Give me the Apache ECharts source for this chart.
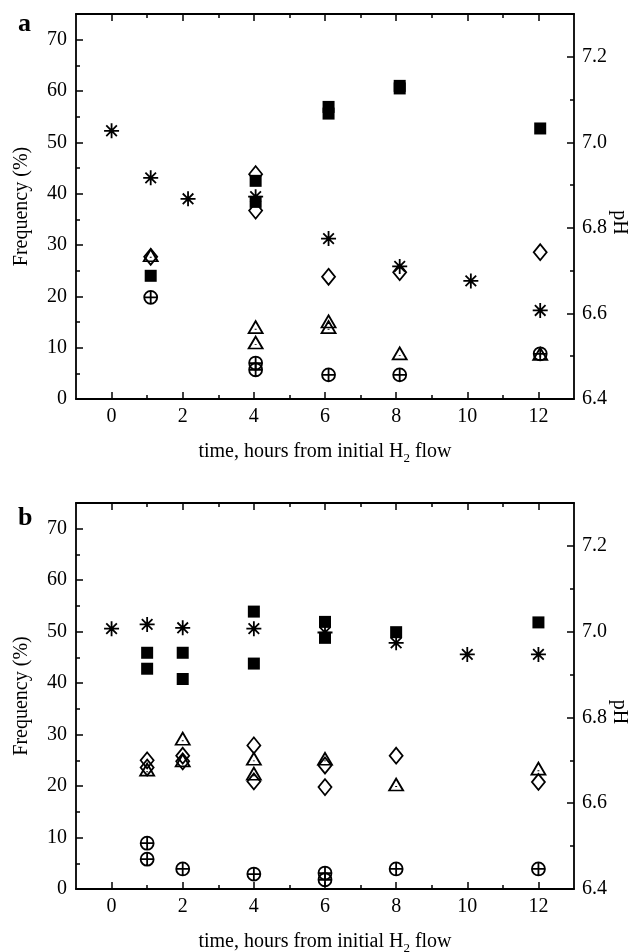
<!DOCTYPE html>
<html><head><meta charset="utf-8">
<script src="https://cdn.jsdelivr.net/npm/echarts@6/dist/echarts.min.js"></script>
<style>html,body{margin:0;padding:0;background:#fff}#c{width:637px;height:952px}</style>
</head><body><div id="c"></div>
<script>
// tick values
const xTicks = [0, 2, 4, 6, 8, 10, 12];
const xMinorTicks = [1, 3, 5, 7, 9, 11];
const freqTicks = [0, 10, 20, 30, 40, 50, 60, 70];
const freqMinorTicks = [5, 15, 25, 35, 45, 55, 65];
const phTicks = [6.4, 6.6, 6.8, 7.0, 7.2];
const phMinorTicks = [6.5, 6.7, 6.9, 7.1];

// panel a  ([time, frequency %] or [time, pH])
const aSquares = [[1.1, 24], [4.05, 42.5], [4.05, 38.4], [6.1, 56.9], [6.1, 55.6], [8.1, 61], [8.1, 60.5], [12.05, 52.7]];
const aDiamonds = [[1.1, 27.7], [4.05, 43.8], [4.05, 36.7], [6.1, 23.8], [8.1, 24.7], [12.05, 28.6]];
const aTriangles = [[1.1, 28], [4.05, 14.0], [4.05, 11.0], [6.1, 15.1], [6.1, 14.0], [8.1, 8.9], [12.05, 8.8]];
const aCircles = [[1.1, 19.8], [4.05, 7.0], [4.05, 5.7], [6.1, 4.7], [8.1, 4.7], [12.05, 8.8]];
const aPH = [[0, 7.027], [1.1, 6.917], [2.15, 6.868], [4.05, 6.873], [6.1, 6.775], [8.1, 6.710], [10.1, 6.676], [12.05, 6.607]];

// panel b
const bSquares = [[1, 45.9], [1, 42.8], [2, 45.9], [2, 40.8], [4, 53.9], [4, 43.8], [6, 51.9], [6, 48.8], [8, 49.9], [12, 51.8]];
const bDiamonds = [[1, 25.0], [1, 23.6], [2, 25.9], [2, 24.8], [4, 27.9], [4, 20.9], [6, 24.0], [6, 19.8], [8, 25.9], [12, 20.8]];
const bTriangles = [[1, 23.2], [2, 29.2], [2, 25.0], [4, 25.3], [4, 22.4], [6, 25.3], [8, 20.3], [12, 23.4]];
const bCircles = [[1, 8.9], [1, 5.8], [2, 3.9], [4, 2.9], [6, 3.1], [6, 1.8], [8, 3.9], [12, 3.9]];
const bPH = [[0, 7.007], [1, 7.017], [2, 7.009], [4, 7.007], [6, 6.998], [8, 6.974], [10, 6.947], [12, 6.947]];

const FONT = 'Liberation Serif';
const BLACK = '#000';

const gridA = { left: 76, right: 63, top: 14, height: 385, outerBoundsMode: 'none', containLabel: false };
const gridB = { left: 76, right: 63, top: 503, height: 386, outerBoundsMode: 'none', containLabel: false };

function xAxis(gi, pos, ticks, len, main, withName) {
  return {
    type: 'value', gridIndex: gi, position: pos, min: -1, max: 13, interval: 1,
    axisLine: { show: main, onZero: false, lineStyle: { color: BLACK, width: 1.8 } },
    axisTick: { show: true, inside: true, length: len, customValues: ticks, lineStyle: { color: BLACK, width: 1.5 } },
    axisLabel: { show: main && pos === 'bottom', customValues: xTicks, margin: 8, color: BLACK, fontFamily: FONT, fontSize: 20 },
    splitLine: { show: false },
    name: withName ? 'time, hours from initial H{sub|2} flow' : '',
    nameLocation: 'middle', nameGap: 40,
    nameTextStyle: {
      color: BLACK, fontFamily: FONT, fontSize: 20, lineHeight: 26,
      rich: { sub: { fontFamily: FONT, fontSize: 13, lineHeight: 13, verticalAlign: 'bottom', color: BLACK } }
    }
  };
}
function freqAxis(gi, ticks, len, main) {
  return {
    type: 'value', gridIndex: gi, position: 'left', min: 0, max: 75, interval: 5,
    axisLine: { show: main, onZero: false, lineStyle: { color: BLACK, width: 1.8 } },
    axisTick: { show: true, inside: true, length: len, customValues: ticks, lineStyle: { color: BLACK, width: 1.5 } },
    axisLabel: { show: main, customValues: freqTicks, margin: 9, color: BLACK, fontFamily: FONT, fontSize: 20 },
    splitLine: { show: false },
    name: main ? 'Frequency (%)' : '', nameLocation: 'middle', nameGap: 44, nameRotate: 90,
    nameTextStyle: { color: BLACK, fontFamily: FONT, fontSize: 20 }
  };
}
function phAxis(gi, ticks, len, main) {
  return {
    type: 'value', gridIndex: gi, position: 'right', min: 6.4, max: 7.3, interval: 0.1,
    axisLine: { show: main, onZero: false, lineStyle: { color: BLACK, width: 1.8 } },
    axisTick: { show: true, inside: true, length: len, customValues: ticks, lineStyle: { color: BLACK, width: 1.5 } },
    axisLabel: { show: main, customValues: phTicks, margin: 8, color: BLACK, fontFamily: FONT, fontSize: 20,
      formatter: v => Number(v).toFixed(1) },
    splitLine: { show: false },
    name: main ? 'pH' : '', nameLocation: 'middle', nameGap: 35, nameRotate: -90, nameMoveOverlap: false,
    nameTextStyle: { color: BLACK, fontFamily: FONT, fontSize: 20, padding: [0, 0, 0, 32] }
  };
}

const SYM_TRI = 'path://M0,-10 L8.66,5 L-8.66,5 Z M0,-0.5 L0,0.7';
const SYM_CIRC = 'path://M-10,0 A10,10 0 1,1 10,0 A10,10 0 1,1 -10,0 Z M-10,0 L10,0 M0,-10 L0,10';
const SYM_STAR = 'path://M0,-10 L0,10 M-10,0 L10,0 M-7.07,-7.07 L7.07,7.07 M-7.07,7.07 L7.07,-7.07';

const outline = { color: 'rgba(0,0,0,0)', borderColor: BLACK, borderWidth: 1.8, opacity: 1 };

function panelSeries(p, sq, di, tr, ci, ph) {
  const xi = p * 2, yf = p * 2, yp = p * 2 + 1;
  const base = { type: 'scatter', xAxisIndex: xi, silent: true, animation: false };
  return [
    Object.assign({}, base, { name: 'square', yAxisIndex: yf, data: sq, symbol: 'rect', symbolSize: 12, itemStyle: { color: BLACK, opacity: 1 } }),
    Object.assign({}, base, { name: 'diamond', yAxisIndex: yf, data: di, symbol: 'diamond', symbolSize: [13, 16], itemStyle: outline }),
    Object.assign({}, base, { name: 'triangle', yAxisIndex: yf, data: tr, symbol: SYM_TRI, symbolSize: [14, 12], itemStyle: outline }),
    Object.assign({}, base, { name: 'circle', yAxisIndex: yf, data: ci, symbol: SYM_CIRC, symbolSize: 13, itemStyle: outline }),
    Object.assign({}, base, { name: 'pH', yAxisIndex: yp, data: ph, symbol: SYM_STAR, symbolSize: 15, itemStyle: outline })
  ];
}

const option = {
  backgroundColor: '#fff',
  animation: false,
  title: [
    { text: 'a', left: 13, top: 6, textStyle: { fontFamily: FONT, fontWeight: 'bold', fontSize: 26, color: BLACK } },
    { text: 'b', left: 13, top: 500, textStyle: { fontFamily: FONT, fontWeight: 'bold', fontSize: 26, color: BLACK } }
  ],
  grid: [gridA, gridB, Object.assign({}, gridA), Object.assign({}, gridB)],
  xAxis: [
    xAxis(0, 'bottom', xTicks, 7, true, true),
    xAxis(0, 'top', xTicks, 7, true, false),
    xAxis(1, 'bottom', xTicks, 7, true, true),
    xAxis(1, 'top', xTicks, 7, true, false),
    xAxis(2, 'bottom', xMinorTicks, 4, false, false),
    xAxis(2, 'top', xMinorTicks, 4, false, false),
    xAxis(3, 'bottom', xMinorTicks, 4, false, false),
    xAxis(3, 'top', xMinorTicks, 4, false, false)
  ],
  yAxis: [
    freqAxis(0, freqTicks, 7, true),
    phAxis(0, phTicks, 7, true),
    freqAxis(1, freqTicks, 7, true),
    phAxis(1, phTicks, 7, true),
    freqAxis(2, freqMinorTicks, 4, false),
    phAxis(2, phMinorTicks, 4, false),
    freqAxis(3, freqMinorTicks, 4, false),
    phAxis(3, phMinorTicks, 4, false)
  ],
  series: [].concat(
    panelSeries(0, aSquares, aDiamonds, aTriangles, aCircles, aPH),
    panelSeries(1, bSquares, bDiamonds, bTriangles, bCircles, bPH)
  )
};

const chart = echarts.init(document.getElementById('c'), null, { renderer: 'canvas' });
chart.setOption(option);
</script>
</body></html>
